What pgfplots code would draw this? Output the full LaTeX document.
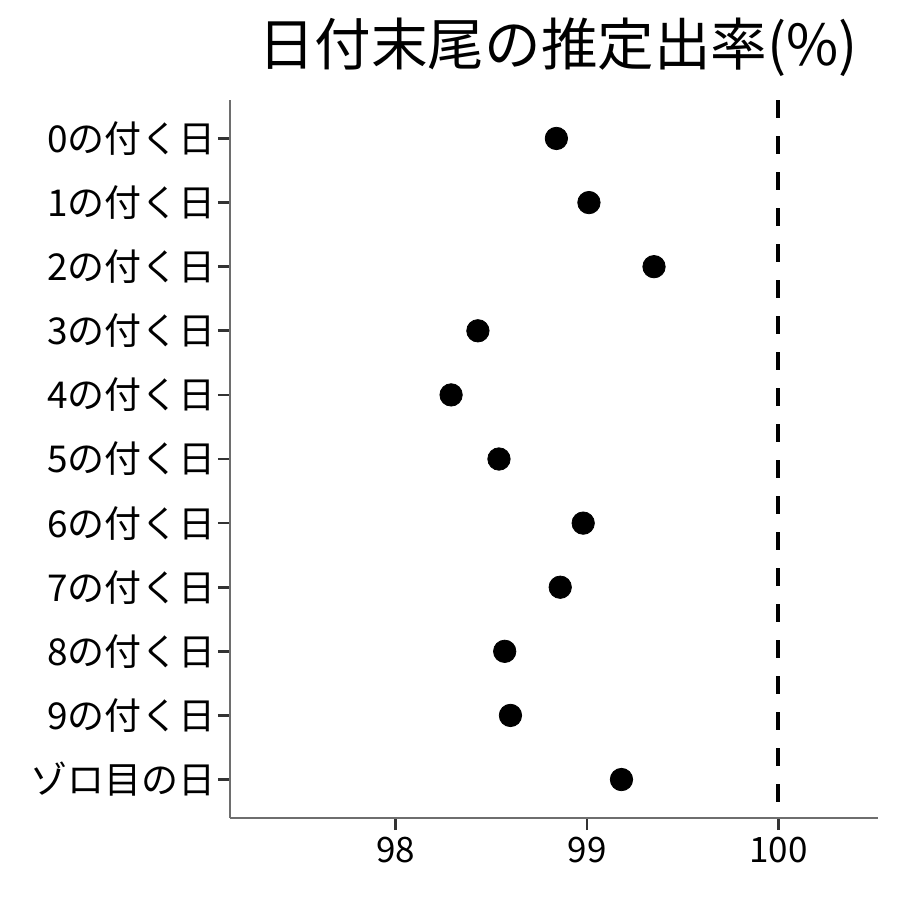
\documentclass[border=0pt]{standalone}
\usepackage{fontspec}
\setmainfont{Noto Sans CJK JP}
\usepackage{pgfplots}
\pgfplotsset{compat=1.18}
\definecolor{axisgray}{HTML}{6E6E6E}
\definecolor{tickgray}{HTML}{333333}
\begin{document}
\begin{tikzpicture}
\begin{axis}[
    name=main,
    scale only axis,
    width=324pt, height=359pt,
    xmin=97.135, xmax=100.52,
    ymin=-0.6, ymax=10.6,
    y dir=reverse,
    axis x line*=bottom,
    axis y line*=left,
    axis line style={axisgray, line width=0.9pt},
    xtick={98,99,100},
    ytick={0,...,10},
    yticklabels={0の付く日,1の付く日,2の付く日,3の付く日,4の付く日,5の付く日,6の付く日,7の付く日,8の付く日,9の付く日,ゾロ目の日},
    tick align=outside,
    major tick length=6pt,
    tick style={tickgray, line width=1.3pt},
    ticklabel style={font=\fontsize{17.5}{20}\selectfont, text=black},
    yticklabel style={font=\fontsize{18.5}{21}\selectfont, xshift=2.5pt},
    /pgf/number format/assume math mode=true,
    title={日付末尾の推定出率(\%)},
    title style={font=\fontsize{28.3}{32}\selectfont, yshift=2pt, xshift=2pt},
    clip=false,
]
\addplot[only marks, mark=*, mark size=5.6pt, black] coordinates {
    (98.84,0) (99.01,1) (99.35,2) (98.43,3) (98.29,4) (98.54,5)
    (98.98,6) (98.86,7) (98.57,8) (98.60,9) (99.18,10)
};
\addplot[black, line width=2pt, dash pattern=on 9pt off 9pt] coordinates {(100,-0.6) (100,10.6)};
\end{axis}
\path (main.south west) ++(-115pt,-41pt) rectangle ([shift={(11pt,50pt)}]main.north east);
\end{tikzpicture}
\end{document}
